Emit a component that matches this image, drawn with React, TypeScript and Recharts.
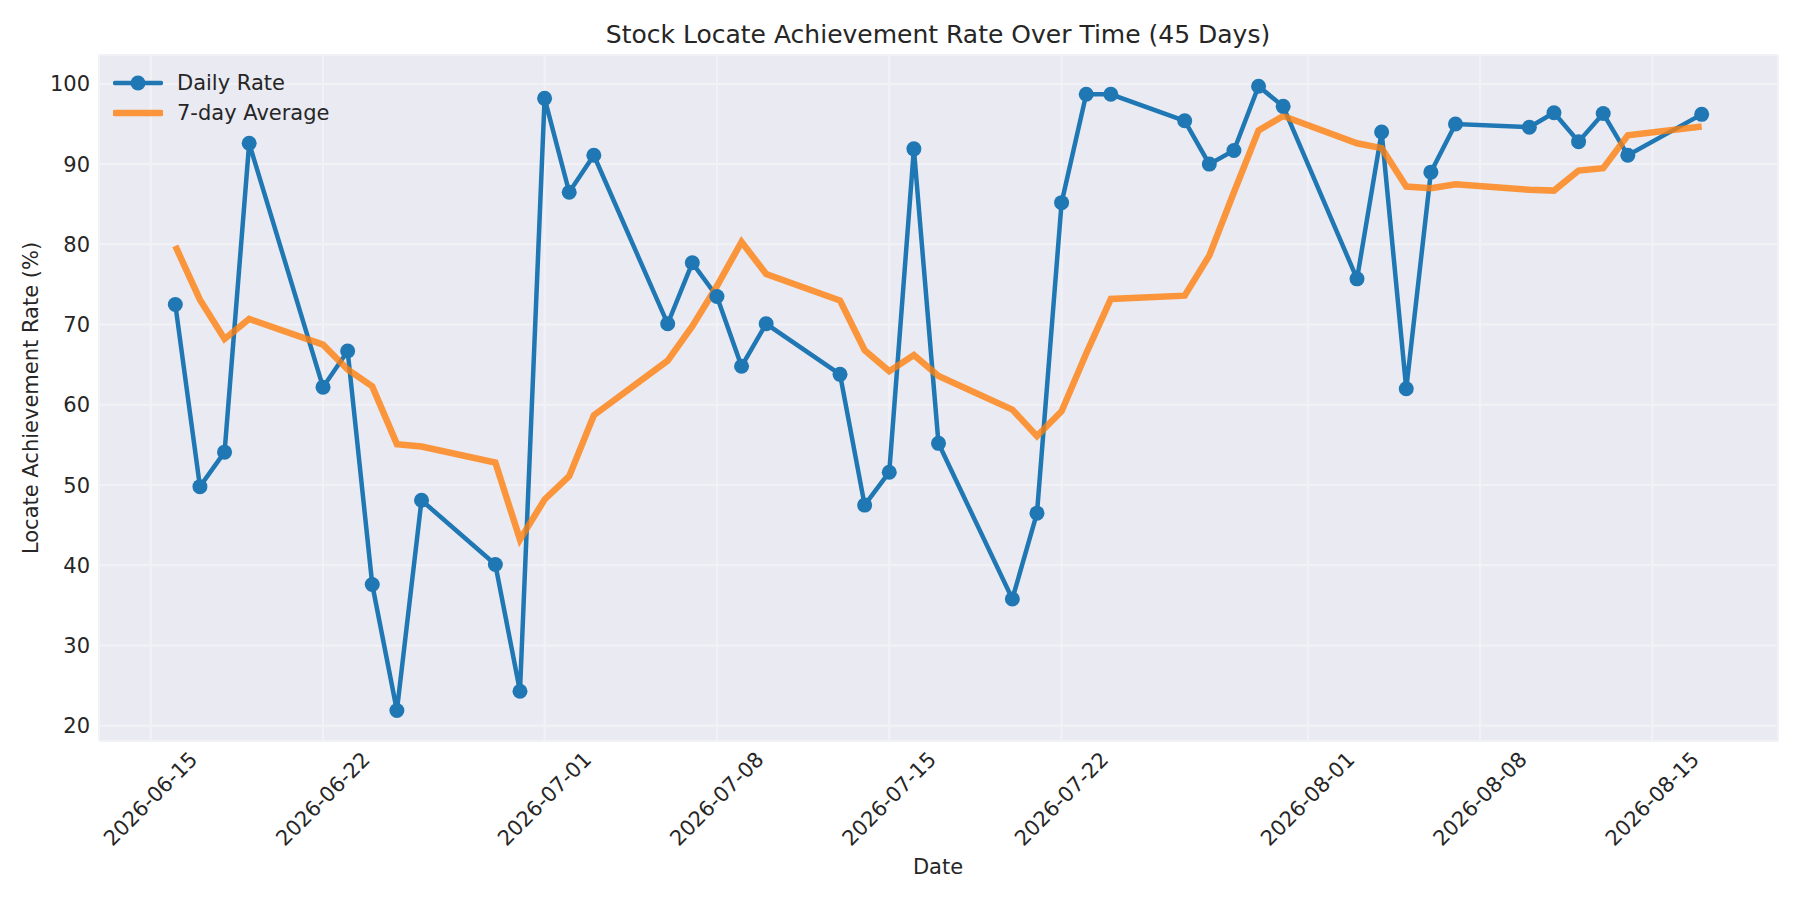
import { CartesianGrid, Legend, Line, LineChart, XAxis, YAxis } from 'recharts';

// trading days shown on the chart
const dates = [
  '2026-06-16', '2026-06-17', '2026-06-18', '2026-06-19',
  '2026-06-22', '2026-06-23', '2026-06-24', '2026-06-25', '2026-06-26',
  '2026-06-29', '2026-06-30', '2026-07-01', '2026-07-02', '2026-07-03',
  '2026-07-06', '2026-07-07', '2026-07-08', '2026-07-09', '2026-07-10',
  '2026-07-13', '2026-07-14', '2026-07-15', '2026-07-16', '2026-07-17',
  '2026-07-20', '2026-07-21', '2026-07-22', '2026-07-23', '2026-07-24',
  '2026-07-27', '2026-07-28', '2026-07-29', '2026-07-30', '2026-07-31',
  '2026-08-03', '2026-08-04', '2026-08-05', '2026-08-06', '2026-08-07',
  '2026-08-10', '2026-08-11', '2026-08-12', '2026-08-13', '2026-08-14',
  '2026-08-17',
];

const dailyRate = [
  72.5, 49.8, 54.1, 92.6,
  62.2, 66.7, 37.6, 21.9, 48.1,
  40.1, 24.3, 98.2, 86.5, 91.1,
  70.1, 77.7, 73.5, 64.8, 70.1,
  63.8, 47.5, 51.6, 91.9, 55.2,
  35.8, 46.5, 85.2, 98.7, 98.7,
  95.4, 90.0, 91.7, 99.7, 97.2,
  75.7, 94.0, 62.0, 89.0, 95.0,
  94.6, 96.4, 92.8, 96.3, 91.1,
  96.2,
];

const weeklyAvg = [
  79.8, 73.1, 68.2, 70.7,
  67.5, 64.4, 62.3, 55.1, 54.8,
  52.8, 43.2, 48.2, 51.1, 58.7,
  65.5, 69.8, 74.8, 80.3, 76.3,
  73.0, 66.8, 64.2, 66.2, 63.6,
  59.4, 56.1, 59.2, 66.4, 73.2,
  73.6, 78.6, 86.5, 94.2, 96.0,
  92.6, 92.0, 87.2, 87.0, 87.5,
  86.8, 86.7, 89.2, 89.5, 93.6,
  94.7,
];

const xTickDates = [
  '2026-06-15', '2026-06-22', '2026-07-01', '2026-07-08', '2026-07-15',
  '2026-07-22', '2026-08-01', '2026-08-08', '2026-08-15',
];
const yTicks = [20, 30, 40, 50, 60, 70, 80, 90, 100];

const FONT = '"DejaVu Sans", sans-serif';
const TEXT = '#262626';
const BLUE = '#1f77b4';
const ORANGE = '#ff7f0e';

const DAY_MS = 86400000;
const ORIGIN = Date.UTC(2026, 5, 15);
const toDay = (s: string) => {
  const [y, m, d] = s.split('-').map(Number);
  return (Date.UTC(y, m - 1, d) - ORIGIN) / DAY_MS;
};
const fromDay = (n: number) => new Date(ORIGIN + Math.round(n) * DAY_MS).toISOString().slice(0, 10);

const chartData = dates.map((d, i) => ({ day: toDay(d), rate: dailyRate[i], avg: weeklyAvg[i] }));
const xTicks = xTickDates.map(toDay);
const firstDay = chartData[0].day;
const lastDay = chartData[chartData.length - 1].day;
const pad = (lastDay - firstDay) * 0.05;

function DateTick({ x, y, payload }: any) {
  return (
    <text
      x={x}
      y={y + 50}
      transform={`rotate(-45 ${x} ${y + 50})`}
      textAnchor="middle"
      dominantBaseline="central"
      fontFamily={FONT}
      fontSize={21}
      fill={TEXT}
    >
      {fromDay(payload.value)}
    </text>
  );
}

function LegendBox() {
  const row = (label: string, color: string, width: number, dot: boolean, opacity: number) => (
    <div style={{ display: 'flex', alignItems: 'center', height: 30 }}>
      <svg width={50} height={20}>
        <line x1={2} x2={48} y1={10} y2={10} stroke={color} strokeOpacity={opacity} strokeWidth={width} strokeLinecap="round" />
        {dot && <circle cx={25} cy={10} r={7.5} fill={color} />}
      </svg>
      <span style={{ marginLeft: 14 }}>{label}</span>
    </div>
  );
  return (
    <div style={{ fontFamily: FONT, fontSize: 21, color: TEXT, lineHeight: 1 }}>
      {row('Daily Rate', BLUE, 4.5, true, 1)}
      {row('7-day Average', ORANGE, 6.5, false, 0.8)}
    </div>
  );
}

export default function App() {
  return (
    <div style={{ position: 'absolute', left: 0, top: 0, width: 1800, height: 900, background: '#fff' }}>
      <div
        style={{
          position: 'absolute', left: 938, top: 34, transform: 'translate(-50%, -50%)',
          fontFamily: FONT, fontSize: 25, color: TEXT, whiteSpace: 'nowrap',
        }}
      >
        Stock Locate Achievement Rate Over Time (45 Days)
      </div>
      <LineChart
        width={1800}
        height={900}
        data={chartData}
        margin={{ top: 55, right: 22, left: 39, bottom: 39 }}
      >
        <CartesianGrid fill="#eaeaf2" stroke="#f2f2f6" strokeWidth={2} />
        <XAxis
          dataKey="day"
          type="number"
          domain={[firstDay - pad, lastDay + pad]}
          ticks={xTicks}
          allowDataOverflow
          height={120}
          axisLine={false}
          tickLine={false}
          tick={<DateTick />}
          interval={0}
        />
        <YAxis
          type="number"
          domain={[18.1, 103.6]}
          ticks={yTicks}
          allowDataOverflow
          width={60}
          axisLine={false}
          tickLine={false}
          tickMargin={3}
          tick={{ fontFamily: FONT, fontSize: 21, fill: TEXT }}
        />
        <Legend
          layout="vertical"
          align="center"
          verticalAlign="middle"
          content={<LegendBox />}
          wrapperStyle={{ left: 113, top: 68, width: 'auto', height: 'auto' }}
        />
        <Line
          type="linear"
          dataKey="rate"
          name="Daily Rate"
          stroke={BLUE}
          strokeWidth={4.5}
          dot={{ r: 7.5, fill: BLUE, stroke: BLUE, strokeWidth: 0 }}
          activeDot={false}
          isAnimationActive={false}
        />
        <Line
          type="linear"
          dataKey="avg"
          name="7-day Average"
          stroke={ORANGE}
          strokeOpacity={0.8}
          strokeWidth={6.5}
          dot={false}
          activeDot={false}
          isAnimationActive={false}
        />
      </LineChart>
      <div
        style={{
          position: 'absolute', left: 938, top: 867, transform: 'translate(-50%, -50%)',
          fontFamily: FONT, fontSize: 21, color: TEXT, whiteSpace: 'nowrap',
        }}
      >
        Date
      </div>
      <div
        style={{
          position: 'absolute', left: 31, top: 398, transform: 'translate(-50%, -50%) rotate(-90deg)',
          fontFamily: FONT, fontSize: 21, color: TEXT, whiteSpace: 'nowrap',
        }}
      >
        Locate Achievement Rate (%)
      </div>
    </div>
  );
}
